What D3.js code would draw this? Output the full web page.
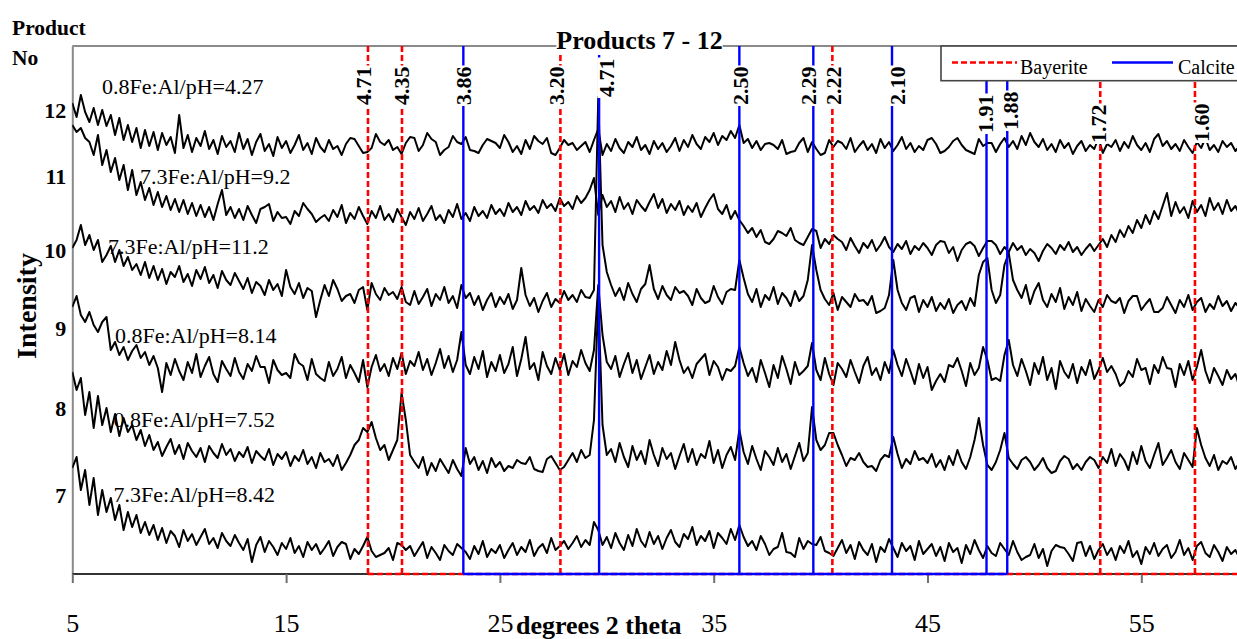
<!DOCTYPE html>
<html>
<head>
<meta charset="utf-8">
<script src="https://cdn.jsdelivr.net/npm/d3@7"></script>
<style>
  html, body { margin: 0; padding: 0; background: #fff; }
  svg { display: block; font-family: "Liberation Serif", "Times New Roman", serif; }
</style>
</head>
<body>
<svg id="chart" width="1237" height="639"></svg>
<script>
// ---- scan data: 2-theta grid (degrees), 0.2 degree step ----
const twoThetaStart = 5;
const twoThetaStep = 0.2;

const products = [12, 11, 10, 9, 8, 7];
const sampleNames = [
  "0.8Fe:Al/pH=4.27", "7.3Fe:Al/pH=9.2", "7.3Fe:Al/pH=11.2",
  "0.8Fe:Al/pH=8.14", "0.8Fe:Al/pH=7.52", "7.3Fe:Al/pH=8.42"
];
// vertical offset added to each scan in the stacked plot
const traceOffsets = [410, 310, 250, 170, 90, 0];
// level of each product number on the intensity axis
const productLevels = [464, 398, 324, 246, 166, 79];

const scan12 = [
  61,47,69,52,42,56,39,54,38,49,29,46,24,39,22,36,16,34,18,32,
  14,31,19,27,11,49,16,29,12,26,18,33,15,24,10,28,17,23,12,31,
  15,25,9,22,30,13,20,8,27,16,23,11,19,29,14,21,10,26,17,12,
  24,15,18,9,20,26,25,18,11,12,16,30,22,19,24,14,17,10,21,27,
  26,13,19,31,25,22,9,14,17,28,22,20,27,14,13,11,19,25,23,21,
  16,29,22,12,18,10,24,15,28,23,20,26,11,9,16,24,19,21,14,18,
  22,12,24,35,9,20,13,25,16,11,22,17,27,14,19,10,23,15,21,12,
  18,26,13,24,17,29,20,15,27,22,31,19,28,24,33,26,39,21,25,16,
  23,14,20,21,19,15,24,10,12,13,21,26,12,22,15,9,11,24,17,23,
  21,15,26,12,18,23,14,20,11,25,16,22,13,19,27,15,21,12,18,14,
  24,26,20,11,13,17,23,26,19,14,12,10,25,18,21,21,12,20,26,17,
  23,15,28,19,31,22,17,25,14,20,12,24,16,21,10,18,23,13,19,15,
  26,11,20,17,24,13,22,16,28,19,14,21,12,25,30,18,23,15,20,13,
  24,17,11,22,16,26,14,19,12,23,17,21,13,18,15,20
];
const scan11 = [
  139,132,136,126,122,109,129,99,114,92,106,84,99,74,94,69,82,64,76,59,
  72,57,68,54,65,52,64,50,61,48,59,47,57,44,60,74,49,57,46,55,
  44,58,49,41,55,57,60,43,52,46,47,40,53,48,61,55,50,42,46,49,
  43,54,47,59,41,51,45,57,48,40,53,46,58,44,50,42,55,47,39,52,
  45,56,43,50,58,44,49,41,54,47,60,45,51,43,57,48,53,46,59,50,
  55,48,61,52,57,49,63,54,58,51,64,56,60,53,66,58,62,55,68,61,
  66,74,86,49,69,57,63,52,67,55,61,50,64,58,53,62,70,56,65,51,
  60,54,63,49,58,52,61,47,56,64,70,55,50,59,45,53,44,38,31,36,
  27,34,22,20,25,33,31,28,36,24,21,19,27,35,33,16,25,20,29,25,
  22,14,26,18,11,21,16,24,13,19,27,17,12,20,15,23,10,18,14,21,
  16,9,19,23,22,11,17,3,14,20,22,18,8,16,23,23,19,10,17,12,
  21,14,18,9,15,11,3,13,20,16,10,19,14,22,12,17,9,15,20,13,
  19,25,17,29,22,34,27,38,31,44,36,49,40,53,45,58,71,48,62,51,
  57,46,63,52,59,48,66,54,61,50,64,53,58,49,62,55
];
const scan10 = [
  76,84,99,79,89,74,84,62,69,78,62,74,58,67,54,60,49,62,46,58,
  44,55,40,52,47,58,42,50,38,54,45,57,41,49,36,53,44,39,51,43,
  35,46,31,42,38,29,44,34,40,28,54,37,30,41,26,36,33,7,24,39,
  28,44,35,23,28,30,21,34,37,14,41,30,24,36,29,32,25,37,22,19,
  33,20,27,35,18,30,24,37,21,28,16,39,26,31,19,28,14,24,31,17,
  27,20,30,15,24,56,29,18,26,12,23,31,17,25,21,33,24,29,22,34,
  27,26,34,227,79,52,39,28,36,24,41,30,22,35,40,59,35,25,38,29,
  24,37,31,33,28,19,35,26,21,23,38,27,20,32,35,34,64,46,30,22,
  35,17,29,24,37,20,31,26,18,33,23,28,44,79,54,34,25,19,31,14,
  27,22,17,30,23,24,19,28,11,13,16,29,64,34,21,14,26,28,12,24,
  17,27,13,21,15,25,11,19,23,14,26,18,49,62,66,34,21,29,59,71,
  44,34,26,39,20,33,41,24,17,30,22,36,15,27,19,32,13,25,18,12,
  24,17,29,23,21,26,11,23,28,28,14,20,25,12,12,16,27,19,11,24,
  17,29,14,22,26,12,20,15,28,18,23,13,21,16,25,19
];
const scan9 = [
  97,108,89,82,92,79,72,82,87,54,62,49,57,44,53,59,46,52,39,48,
  36,12,41,29,45,33,24,42,31,50,27,38,47,30,22,43,35,28,46,32,
  25,40,33,48,37,37,21,44,34,29,31,26,50,41,38,24,45,30,26,23,
  42,28,35,47,26,39,31,22,44,17,37,49,33,40,28,46,35,51,30,43,
  38,52,34,45,29,41,55,36,48,32,44,72,39,30,47,35,53,27,42,33,
  49,31,40,57,28,45,67,35,41,24,52,38,30,46,34,50,29,43,37,54,
  41,33,54,119,69,42,35,48,27,40,51,31,44,25,37,49,30,42,34,53,
  39,62,44,31,37,26,40,45,50,29,43,37,24,35,33,38,57,41,28,36,
  22,44,31,17,39,26,48,35,20,42,29,33,38,61,34,24,46,30,19,41,
  35,27,44,32,21,38,47,29,36,24,42,31,54,39,28,45,33,20,40,26,
  37,14,23,30,22,39,37,46,33,18,41,29,36,57,44,24,26,23,49,64,
  39,28,45,33,19,41,30,47,24,36,15,43,32,26,40,21,37,29,44,25,
  34,46,32,38,30,18,22,33,27,45,34,36,20,39,31,47,36,35,17,40,
  29,43,24,37,54,33,21,36,28,19,34,25,30,17,23,27
];
const scan8 = [
  112,94,106,69,92,56,88,59,76,52,70,48,66,52,59,44,54,38,49,34,
  42,28,37,45,30,39,25,41,33,27,36,22,38,31,26,40,29,35,23,32,
  27,37,21,33,28,24,35,19,30,25,32,18,28,23,34,20,27,16,31,22,
  25,18,29,14,21,29,39,44,56,52,62,46,34,39,24,34,44,91,64,29,
  22,16,27,9,21,13,25,18,11,24,15,8,36,20,27,14,23,11,26,17,
  22,13,18,16,24,21,20,27,15,13,12,25,28,21,14,17,24,31,22,34,
  26,29,64,186,59,29,35,22,41,27,17,38,24,33,20,44,29,18,36,25,
  31,15,28,40,22,35,19,30,26,43,21,34,16,29,37,24,54,32,20,38,
  25,14,33,27,19,36,22,30,15,28,41,23,31,77,44,34,39,51,51,39,
  29,18,26,24,31,22,17,18,13,24,29,27,47,30,16,25,20,33,24,26,
  21,30,17,24,14,28,19,34,22,15,27,44,66,39,19,14,22,34,51,26,
  20,15,24,27,22,14,19,26,16,11,13,23,28,25,15,20,14,22,27,24,
  16,27,21,35,18,30,24,14,32,20,38,23,16,29,41,19,26,34,22,15,
  31,24,17,56,39,26,18,29,14,23,20,27,15,22,19,25
];
const scan7 = [
  106,117,84,104,69,96,59,84,62,76,54,69,44,62,47,59,41,52,39,49,
  34,46,31,43,38,27,44,33,40,29,37,45,30,36,26,41,33,28,39,31,
  24,35,12,29,37,22,33,27,19,31,25,36,21,28,17,32,24,30,20,26,
  33,18,27,32,30,15,25,20,28,37,23,17,19,21,26,14,31,29,24,28,
  18,25,32,16,27,21,14,29,23,19,30,26,22,15,28,20,33,17,25,21,
  29,16,24,31,19,27,22,34,18,26,30,21,36,24,28,33,25,31,38,27,
  34,29,52,44,29,37,26,41,31,24,39,28,45,33,27,42,30,38,25,36,
  44,32,27,40,35,47,29,38,33,43,26,41,36,30,45,34,49,37,28,33,
  24,38,30,19,25,27,41,22,21,17,36,25,33,30,29,37,23,21,18,26,
  34,21,29,15,32,24,19,30,12,27,22,35,26,17,31,23,28,14,33,20,
  25,30,18,27,13,31,22,26,11,29,20,34,24,16,28,21,18,31,25,19,
  33,22,14,17,19,30,16,25,8,23,29,27,26,20,13,31,32,18,28,15,
  24,30,19,26,14,28,21,33,17,23,10,27,20,31,18,25,29,16,22,34,
  19,26,14,28,32,21,17,29,22,13,27,20,24,16,25,21
];

// reference reflections (2-theta, degrees) and their d-spacing labels
const bayeritePeaks = [18.83, 20.42, 27.83, 40.55, 53.08, 57.51];
const bayeriteLabels = ["4.71", "4.35", "3.20", "2.22", "1.72", "1.60"];
const calcitePeaks = [23.29, 29.64, 36.20, 39.66, 43.34, 47.76, 48.73];
const calciteLabels = ["3.86", "4.71", "2.50", "2.29", "2.10", "1.91", "1.88"];

const xTickValues = [5, 15, 25, 35, 45, 55];

// ---- layout ----
const svg = d3.select("#chart");
const W = 1237, H = 639;
const plot = { left: 72.3, top: 46, bottom: 574 };
const x = d3.scaleLinear().domain([5, 60]).range([plot.left, plot.left + 55 * 21.38]);
const y = d3.scaleLinear().domain([0, 528]).range([plot.bottom, plot.top]);
const yTop = y.domain()[1];

svg.append("rect").attr("width", W).attr("height", H).attr("fill", "#fff");

svg.append("defs").append("clipPath").attr("id", "plotClip")
  .append("rect").attr("x", plot.left).attr("y", plot.top - 2)
  .attr("width", W - plot.left).attr("height", plot.bottom - plot.top + 4);

// top frame edge
svg.append("line")
  .attr("x1", plot.left).attr("x2", W + 20)
  .attr("y1", plot.top).attr("y2", plot.top)
  .attr("stroke", "#8a8a8a").attr("stroke-width", 2);

// left axis with the product numbers
const yAxis = d3.axisLeft(y)
  .tickValues(productLevels)
  .tickFormat((d, i) => products[i])
  .tickSize(0)
  .tickPadding(6);
const gy = svg.append("g").attr("transform", `translate(${plot.left},0)`).call(yAxis);
gy.select(".domain").attr("stroke", "#8a8a8a").attr("stroke-width", 2);
gy.selectAll("text")
  .attr("font-family", "Liberation Serif, Times New Roman, serif")
  .attr("font-size", 22).attr("font-weight", "bold").attr("fill", "#000");

// bottom axis
const xAxis = d3.axisBottom(x)
  .tickValues(xTickValues)
  .tickFormat(d3.format("d"))
  .tickSizeInner(9)
  .tickSizeOuter(0)
  .tickPadding(31);
const gx = svg.append("g").attr("transform", `translate(0,${plot.bottom})`).call(xAxis);
gx.select(".domain").attr("stroke", "#333").attr("stroke-width", 2)
  .attr("d", `M${plot.left},0H${W + 20}`);
gx.selectAll(".tick line").attr("stroke", "#6f6f6f").attr("stroke-width", 2);
gx.selectAll("text")
  .attr("font-family", "Liberation Serif, Times New Roman, serif")
  .attr("font-size", 26).attr("fill", "#000");

// ---- stacked scans ----
const scans = [scan12, scan11, scan10, scan9, scan8, scan7];
const traceG = svg.append("g").attr("clip-path", "url(#plotClip)");
scans.forEach((scan, k) => {
  const line = d3.line()
    .x((d, i) => x(twoThetaStart + i * twoThetaStep))
    .y(d => y(d + traceOffsets[k]))
    .curve(d3.curveLinear);
  traceG.append("path")
    .attr("d", line(scan))
    .attr("fill", "none")
    .attr("stroke", "#000")
    .attr("stroke-width", 2)
    .attr("stroke-linejoin", "round");
});

// ---- reference reflection lines: a stick per reflection plus a run along the baseline ----
const stickLine = d3.line().x(d => x(d[0])).y(d => y(d[1]));
const refG = svg.append("g").attr("clip-path", "url(#plotClip)");
function drawSticks(peaks, runEnd, style) {
  const run = refG.append("path")
    .attr("d", stickLine([[peaks[0], 0], [runEnd, 0]]))
    .attr("fill", "none");
  style(run);
  peaks.forEach(p => {
    const s = refG.append("path")
      .attr("d", stickLine([[p, 0], [p, yTop]]))
      .attr("fill", "none");
    style(s);
  });
}
const bayeriteStyle = sel => sel.attr("stroke", "#ff0000")
  .attr("stroke-width", 2.6).attr("stroke-dasharray", "6,3");
const calciteStyle = sel => sel.attr("stroke", "#0000ff").attr("stroke-width", 2.4);
drawSticks(bayeritePeaks, 60, bayeriteStyle);
drawSticks(calcitePeaks, calcitePeaks[calcitePeaks.length - 1], calciteStyle);

// d-spacing labels, rotated, on a white ground
const labelPlacement = {
  bayerite: [ { lvl: 469, dx: -4.5 }, { lvl: 469, dx: -0.7 }, { lvl: 469, dx: -3.3 },
              { lvl: 469, dx: 1.7 }, { lvl: 431, dx: -1.8 }, { lvl: 432, dx: 6.5 } ],
  calcite:  [ { lvl: 469, dx: 0.7 }, { lvl: 477, dx: 8 }, { lvl: 469, dx: 1.7 },
              { lvl: 469, dx: -4.8 }, { lvl: 469, dx: 5.4 }, { lvl: 441, dx: -0.4 },
              { lvl: 444, dx: 3.7 } ]
};
function drawDLabels(peaks, labels, place) {
  peaks.forEach((p, i) => {
    const cx = x(p) + place[i].dx;
    const g = svg.append("g")
      .attr("transform", `translate(${cx + 7.3},${y(place[i].lvl)}) rotate(-90)`);
    const t = g.append("text")
      .attr("x", 0).attr("y", 0)
      .attr("font-size", 22).attr("font-weight", "bold")
      .attr("fill", "#000")
      .text(labels[i]);
    const bb = t.node().getBBox();
    g.insert("rect", "text")
      .attr("x", bb.x - 1).attr("y", bb.y + 3)
      .attr("width", bb.width + 2).attr("height", bb.height - 6)
      .attr("fill", "#fff");
  });
}
drawDLabels(bayeritePeaks, bayeriteLabels, labelPlacement.bayerite);
drawDLabels(calcitePeaks, calciteLabels, labelPlacement.calcite);

// sample names beside each scan
const nameSpots = [
  { x: 102, lvl: 480 }, { x: 140, lvl: 390 }, { x: 108, lvl: 320 },
  { x: 115, lvl: 231 }, { x: 113.6, lvl: 147 }, { x: 113.6, lvl: 72 }
];
sampleNames.forEach((s, k) => {
  svg.append("text")
    .attr("x", nameSpots[k].x).attr("y", y(nameSpots[k].lvl))
    .attr("font-size", 22).attr("fill", "#000")
    .text(s);
});

// ---- legend ----
const lg = svg.append("g");
lg.append("rect")
  .attr("x", 941).attr("y", 46).attr("width", 320).attr("height", 34.7)
  .attr("fill", "#fff").attr("stroke", "#444").attr("stroke-width", 1.6);
lg.append("line").attr("x1", 952).attr("x2", 1017).attr("y1", 62.5).attr("y2", 62.5)
  .attr("stroke", "#ff0000").attr("stroke-width", 2.6).attr("stroke-dasharray", "6,3");
lg.append("text").attr("x", 1020).attr("y", 74).attr("font-size", 20).attr("fill", "#000").text("Bayerite");
lg.append("line").attr("x1", 1112).attr("x2", 1173).attr("y1", 62.5).attr("y2", 62.5)
  .attr("stroke", "#0000ff").attr("stroke-width", 2.4);
lg.append("text").attr("x", 1178).attr("y", 74).attr("font-size", 20).attr("fill", "#000").text("Calcite");

// ---- titles ----
const title = svg.append("text")
  .attr("x", 639.5).attr("y", 49)
  .attr("text-anchor", "middle")
  .attr("font-size", 26).attr("font-weight", "bold").attr("fill", "#000")
  .text("Products 7 - 12");
const tb = title.node().getBBox();
svg.insert("rect", () => title.node())
  .attr("x", tb.x).attr("y", tb.y).attr("width", tb.width).attr("height", tb.height)
  .attr("fill", "#fff");

svg.append("text").attr("x", 12).attr("y", 35)
  .attr("font-size", 21.5).attr("font-weight", "bold").text("Product");
svg.append("text").attr("x", 12).attr("y", 65)
  .attr("font-size", 21.5).attr("font-weight", "bold").text("No");

svg.append("text")
  .attr("transform", "translate(36,306) rotate(-90)")
  .attr("text-anchor", "middle")
  .attr("font-size", 28).attr("font-weight", "bold")
  .text("Intensity");

svg.append("text")
  .attr("x", 516).attr("y", 634)
  .attr("font-size", 26).attr("font-weight", "bold")
  .text("degrees 2 theta");
</script>
</body>
</html>
